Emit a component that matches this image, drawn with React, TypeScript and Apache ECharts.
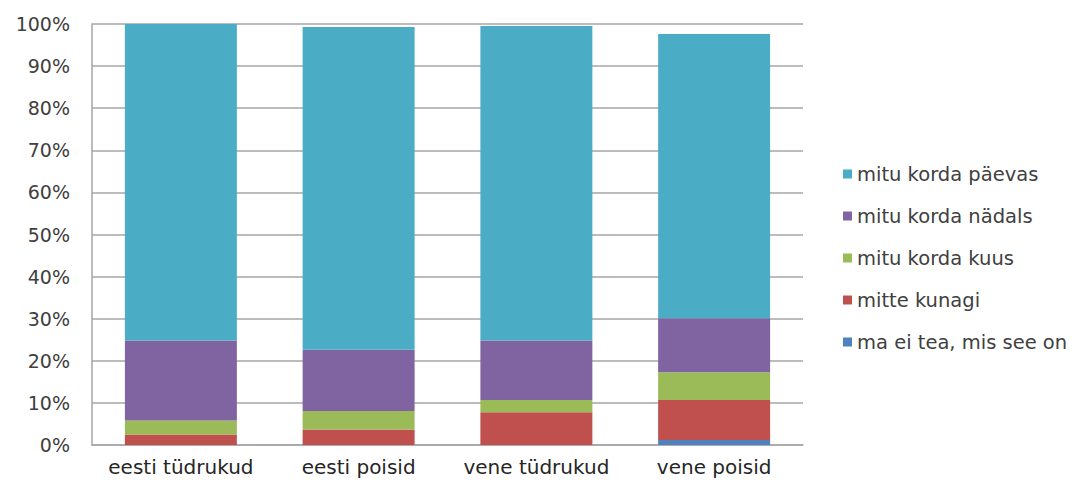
import React, { useEffect, useRef } from "react";
import * as echarts from "echarts";

const categories = ["eesti tüdrukud", "eesti poisid", "vene tüdrukud", "vene poisid"];
const seriesNames = [
  "ma ei tea, mis see on",
  "mitte kunagi",
  "mitu korda kuus",
  "mitu korda nädals",
  "mitu korda päevas",
];
const maEiTea = [0, 0, 0, 1.2];
const mitteKunagi = [2.5, 3.7, 7.8, 9.5];
const kordaKuus = [3.3, 4.4, 2.9, 6.6];
const kordaNadals = [19.0, 14.5, 14.1, 12.8];
const kordaPaevas = [75.2, 76.7, 74.7, 67.5];
const colors = ["#4F81BD", "#C0504D", "#9BBB59", "#8064A2", "#4BACC6"];
const yTicks = [0, 10, 20, 30, 40, 50, 60, 70, 80, 90, 100];

const FONT = "DejaVu Sans";

export default function App() {
  const ref = useRef<HTMLDivElement>(null);
  useEffect(() => {
    if (!ref.current) return;
    const chart = echarts.init(ref.current, undefined, { renderer: "svg" });
    const values = [maEiTea, mitteKunagi, kordaKuus, kordaNadals, kordaPaevas];
    chart.setOption({
      animation: false,
      textStyle: { fontFamily: FONT },
      grid: { left: 84, right: 278, top: 16, bottom: 50, containLabel: false },
      legend: {
        orient: "vertical",
        left: 835,
        top: 156,
        padding: 0,
        itemWidth: 9,
        itemHeight: 9,
        itemGap: 22,
        icon: "rect",
        data: [...seriesNames].reverse(),
        textStyle: { fontFamily: FONT, fontSize: 19.5, color: "#404040" },
      },
      xAxis: {
        type: "category",
        data: categories,
        axisTick: { show: false },
        axisLine: { lineStyle: { color: "#A6A6A6", width: 1.5 } },
        axisLabel: { interval: 0, fontFamily: FONT, fontSize: 20, color: "#262626", margin: 12 },
      },
      yAxis: {
        type: "value",
        min: yTicks[0],
        max: yTicks[yTicks.length - 1],
        interval: 10,
        axisLine: { show: true, lineStyle: { color: "#A6A6A6", width: 1.5 } },
        axisTick: { show: false },
        splitLine: { lineStyle: { color: "#A6A6A6", width: 1.5 } },
        axisLabel: {
          formatter: (v: number) => `${v}%`,
          fontFamily: FONT,
          fontSize: 19,
          color: "#404040",
          margin: 22,
        },
      },
      series: seriesNames.map((name, i) => ({
        name,
        type: "bar",
        stack: "total",
        barCategoryGap: "37%",
        data: values[i],
        itemStyle: { color: colors[i] },
      })),
    });
    return () => chart.dispose();
  }, []);
  return <div ref={ref} style={{ width: 1073, height: 487 }} />;
}
